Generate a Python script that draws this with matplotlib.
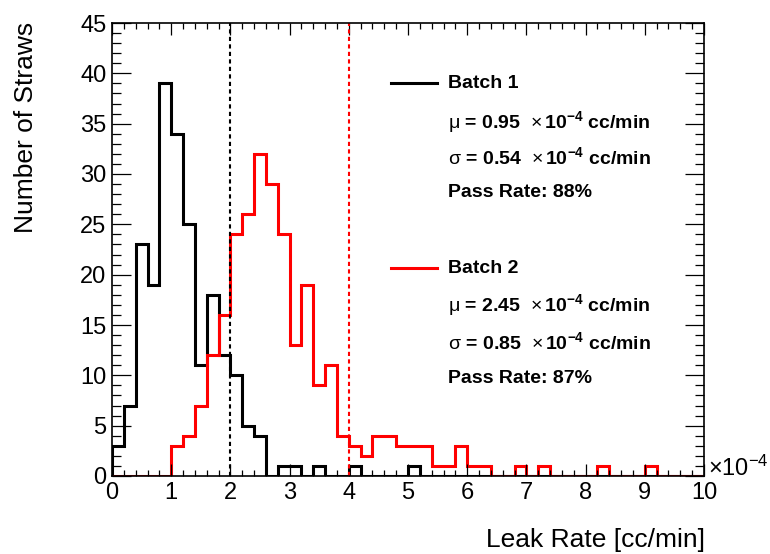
import numpy as np
import matplotlib
matplotlib.use('Agg')
import matplotlib.pyplot as plt
from matplotlib.ticker import MultipleLocator

plt.rcParams['font.family'] = 'Liberation Sans'
plt.rcParams['mathtext.fontset'] = 'custom'
plt.rcParams['mathtext.rm'] = 'Liberation Sans'
plt.rcParams['mathtext.bf'] = 'Liberation Sans:bold'
plt.rcParams['mathtext.it'] = 'Liberation Sans:italic'

# bins of 0.2 (x 10^-4 cc/min) from 0 to 10
edges = np.linspace(0, 10, 51)

batch1 = [3, 7, 23, 19, 39, 34, 25, 11, 18, 12,
          10, 5, 4, 0, 1, 1, 0, 1, 0, 0,
          1, 0, 0, 0, 0, 1, 0, 0, 0, 0,
          0, 0, 0, 0, 0, 0, 0, 0, 0, 0,
          0, 0, 0, 0, 0, 0, 0, 0, 0, 0]
batch2 = [0, 0, 0, 0, 0, 3, 4, 7, 12, 16,
          24, 26, 32, 29, 24, 13, 19, 9, 11, 4,
          3, 2, 4, 4, 3, 3, 3, 1, 1, 3,
          1, 1, 0, 0, 1, 0, 1, 0, 0, 0,
          0, 1, 0, 0, 0, 1, 0, 0, 0, 0]

cut1 = 2.0
cut2 = 4.0
leg1 = ["Batch 1",
        r"$\mathrm{\mu}$ = 0.95  $\times\,$10$^{\mathbf{-4}}$ cc/min",
        r"$\mathrm{\sigma}$ = 0.54  $\times\,$10$^{\mathbf{-4}}$ cc/min",
        "Pass Rate: 88%"]
leg2 = ["Batch 2",
        r"$\mathrm{\mu}$ = 2.45  $\times\,$10$^{\mathbf{-4}}$ cc/min",
        r"$\mathrm{\sigma}$ = 0.85  $\times\,$10$^{\mathbf{-4}}$ cc/min",
        "Pass Rate: 87%"]

fig = plt.figure(figsize=(7.7, 5.54), dpi=100)
ax = fig.add_axes([112/770, 1-476/554, 592/770, 453/554])

ax.stairs(batch1, edges, color='black', lw=2.2, baseline=0)
ax.stairs(batch2, edges, color='red', lw=2.2, baseline=0)

ax.axvline(cut1, color='black', lw=1.5, ls=(0, (2, 1.6)))
ax.axvline(cut2, color='red', lw=1.5, ls=(0, (2, 1.6)))

ax.set_xlim(0, 10)
ax.set_ylim(0, 45)
ax.xaxis.set_major_locator(MultipleLocator(1))
ax.xaxis.set_minor_locator(MultipleLocator(0.2))
ax.yaxis.set_major_locator(MultipleLocator(5))
ax.yaxis.set_minor_locator(MultipleLocator(1))
ax.tick_params(axis='both', which='both', direction='in', top=True, right=True,
               width=0.9, labelsize=17)
ax.tick_params(axis='x', which='major', length=8.6, pad=4)
ax.tick_params(axis='x', which='minor', length=4.3)
ax.tick_params(axis='y', which='major', length=13.7, pad=4)
ax.tick_params(axis='y', which='minor', length=6.5)
for s in ax.spines.values():
    s.set_linewidth(1.2)

ax.text(1.006, 0, r"$\times$10$^{-4}$", transform=ax.transAxes, fontsize=17,
        ha='left', va='baseline')

fig.text(705/770, 1-540/554, "Leak Rate [cc/min]", fontsize=19,
         ha='right', va='center')
fig.text(26/770, 1-22/554, "Number of Straws", fontsize=19, rotation=90,
         ha='center', va='top')

# legend blocks
rows1 = [0.8675, 0.781, 0.704, 0.625]
rows2 = [0.459, 0.377, 0.296, 0.216]
for rows, lines, col in [(rows1, leg1, 'black'), (rows2, leg2, 'red')]:
    ax.plot([0.471, 0.549], [rows[0], rows[0]], color=col, lw=2.2,
            transform=ax.transAxes)
    for yy, t in zip(rows, lines):
        ax.text(0.5676, yy, t, transform=ax.transAxes, fontsize=14,
                fontweight='bold', ha='left', va='center')

fig.savefig('out.png', dpi=100)
